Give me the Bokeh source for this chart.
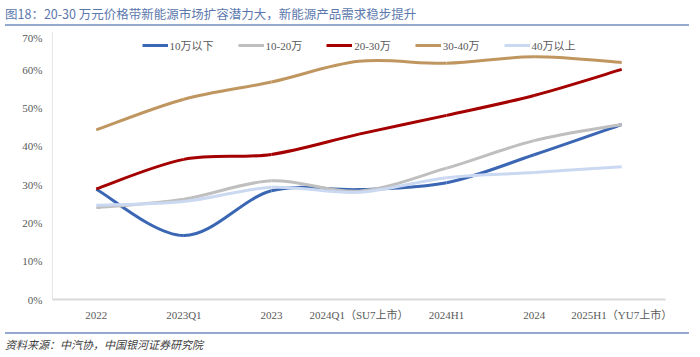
import numpy as np
from bokeh.plotting import figure
from bokeh.models import Div, FixedTicker, Legend, LegendItem, NumeralTickFormatter, Range1d
from bokeh.layouts import column
from bokeh.embed import file_html
from bokeh.resources import INLINE

categories = ["2022", "2023Q1", "2023", "2024Q1（SU7上市）", "2024H1", "2024", "2025H1（YU7上市）"]
s_under10 = [0.288, 0.167, 0.284, 0.287, 0.305, 0.378, 0.457]
s_10_20 = [0.240, 0.262, 0.310, 0.283, 0.343, 0.415, 0.457]
s_20_30 = [0.289, 0.366, 0.379, 0.432, 0.481, 0.533, 0.601]
s_30_40 = [0.443, 0.523, 0.568, 0.622, 0.617, 0.634, 0.619]
s_over40 = [0.246, 0.256, 0.293, 0.280, 0.318, 0.332, 0.347]

names = ["10万以下", "10-20万", "20-30万", "30-40万", "40万以上"]
colors = ["#3a66b4", "#bfbfbf", "#a50000", "#c09660", "#cad9f1"]
series = [s_under10, s_10_20, s_20_30, s_30_40, s_over40]

xs = np.arange(len(categories), dtype=float)

p = figure(width=684, height=296, x_range=Range1d(-0.5, 6.5), y_range=Range1d(0, 0.70),
           output_backend="svg", toolbar_location=None,
           min_border_left=52, min_border_right=19, min_border_top=0, min_border_bottom=28)
p.outline_line_color = None
p.grid.grid_line_color = None
p.background_fill_color = "white"

p.xaxis.ticker = FixedTicker(ticks=list(range(len(categories))))
p.xaxis.major_label_overrides = {i: c for i, c in enumerate(categories)}
p.yaxis.ticker = FixedTicker(ticks=[0, .1, .2, .3, .4, .5, .6, .7])
p.yaxis.formatter = NumeralTickFormatter(format="0%")
for ax in (p.xaxis, p.yaxis):
    ax.major_tick_line_color = None
    ax.minor_tick_line_color = None
    ax.major_tick_out = 0
    ax.major_tick_in = 0
    ax.minor_tick_out = 0
    ax.major_label_text_font = "Liberation Serif, Noto Sans CJK SC"
    ax.major_label_text_font_size = "11px"
    ax.major_label_text_color = "#595959"
p.xaxis.axis_line_color = "#d9d9d9"
p.xaxis.axis_line_width = 2
p.yaxis.axis_line_color = "#e6e6e6"
p.yaxis.axis_line_width = 1
p.xaxis.major_label_standoff = 9
p.yaxis.major_label_standoff = 10

items = []
for name, col, ys in zip(names, colors, series):
    y = np.asarray(ys, dtype=float)
    n = len(y)
    xp = np.concatenate([[xs[0]], xs, [xs[-1]]])
    yp = np.concatenate([[y[0]], y, [y[-1]]])
    x0, y0 = xs[:-1], y[:-1]
    x1, y1 = xs[1:], y[1:]
    cx0 = x0 + (xp[2:n + 1] - xp[0:n - 1]) / 6.0
    cy0 = y0 + (yp[2:n + 1] - yp[0:n - 1]) / 6.0
    cx1 = x1 - (xp[3:n + 2] - xp[1:n]) / 6.0
    cy1 = y1 - (yp[3:n + 2] - yp[1:n]) / 6.0
    r = p.bezier(x0=x0, y0=y0, x1=x1, y1=y1, cx0=cx0, cy0=cy0, cx1=cx1, cy1=cy1,
                 line_color=col, line_width=3)
    items.append(LegendItem(label=name, renderers=[r]))

legend = Legend(items=items, orientation="horizontal", location="top_center",
                border_line_color=None, background_fill_alpha=0,
                label_text_font="Liberation Serif, Noto Sans CJK SC", label_text_font_size="11px",
                label_text_color="#595959", glyph_width=26, glyph_height=10,
                label_standoff=2, spacing=24, padding=2, margin=6)
p.add_layout(legend)

title = Div(text="图18：20-30 万元价格带新能源市场扩容潜力大，新能源产品需求稳步提升",
            width=684, height=21,
            styles={"font-family": "Noto Sans CJK SC", "font-size": "12.5px", "color": "#5b78ad",
                    "border-bottom": "2px solid #95a9d0", "box-sizing": "border-box",
                    "padding-left": "0px", "line-height": "17px"})
footer = Div(text="资料来源：中汽协，中国银河证券研究院",
             width=684, height=22,
             styles={"font-family": "Noto Sans CJK SC", "font-size": "11px", "color": "#404040",
                     "font-style": "italic", "border-top": "2px solid #95a9d0",
                     "box-sizing": "border-box", "padding-left": "0px", "padding-top": "3px"})

layout = column(title, p, footer, spacing=0)
open("out.html", "w").write(file_html(layout, INLINE))
